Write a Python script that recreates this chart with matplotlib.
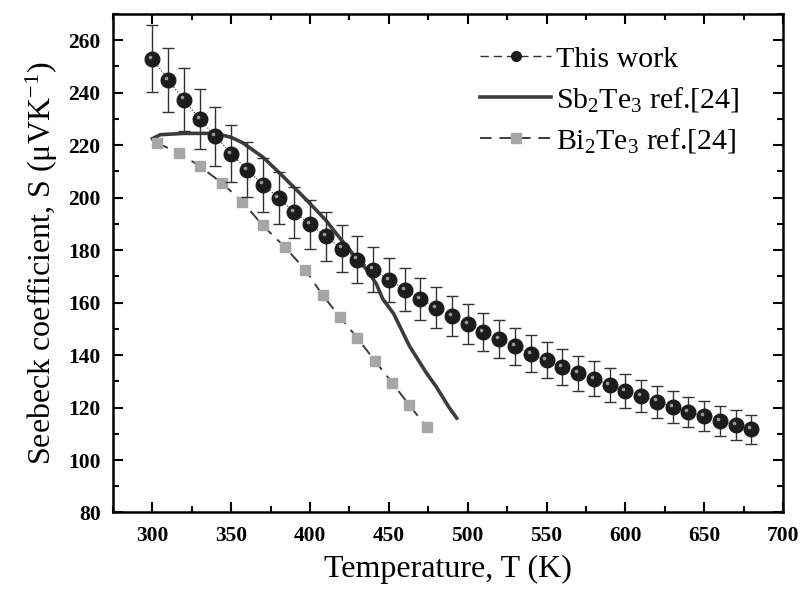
import numpy as np
import matplotlib
matplotlib.use("Agg")
import matplotlib.pyplot as plt
from matplotlib.ticker import MultipleLocator
from matplotlib.transforms import offset_copy

plt.rcParams["font.family"] = ["Liberation Serif", "DejaVu Serif"]
plt.rcParams["mathtext.fontset"] = "custom"
plt.rcParams["mathtext.rm"] = "Liberation Serif"
plt.rcParams["mathtext.it"] = "Liberation Serif:italic"

# This work
t_work = [300, 310, 320, 330, 340, 350, 360, 370, 380, 390, 400, 410, 420,
          430, 440, 450, 460, 470, 480, 490, 500, 510, 520, 530, 540, 550,
          560, 570, 580, 590, 600, 610, 620, 630, 640, 650, 660, 670, 680]
s_work = [253.0, 244.8, 237.4, 229.9, 223.4, 216.8, 210.7, 205.0, 199.9, 194.5,
          189.8, 185.3, 180.6, 176.4, 172.6, 168.7, 164.9, 161.3, 158.1, 154.9,
          151.7, 148.8, 146.0, 143.3, 140.5, 138.0, 135.4, 133.1, 131.0, 128.6,
          126.3, 124.4, 122.3, 120.3, 118.3, 116.7, 114.7, 113.4, 111.7]
err_work = [12.7, 12.2, 11.9, 11.5, 11.2, 10.8, 10.5, 10.3, 10.0, 9.7,
            9.5, 9.3, 9.0, 8.8, 8.6, 8.4, 8.2, 8.1, 7.9, 7.7,
            7.6, 7.4, 7.3, 7.2, 7.0, 6.9, 6.8, 6.7, 6.6, 6.4,
            6.3, 6.2, 6.1, 6.0, 5.9, 5.8, 5.7, 5.7, 5.6]

# Sb2Te3 ref.[24]
t_sb = [300, 305, 320, 340, 350, 357, 370, 381, 398, 410, 419, 427, 436,
        442, 446, 453, 463, 474, 480, 488, 493]
s_sb = [222.5, 224.0, 224.5, 224.5, 223.0, 221.0, 215.5, 209.2, 199.0, 191.4,
        184.5, 178.7, 172.5, 167.2, 161.5, 155.8, 143.5, 133.0, 128.0, 120.2,
        116.0]

# Bi2Te3 ref.[24]
t_bi = [303, 317, 330, 344, 357, 370, 384, 397, 408, 419, 430, 441, 452,
        463, 474]
s_bi = [220.8, 217.0, 212.0, 205.6, 198.5, 189.4, 181.2, 172.5, 162.8, 154.5,
        146.5, 137.9, 129.5, 120.9, 112.5]

fig = plt.figure(figsize=(8.02, 5.89), dpi=100)
ax = fig.add_axes([0.1409, 0.1299, 0.8354, 0.8463])

# reference curves
ax.plot(t_sb, s_sb, color="#3c3c3c", lw=2.6, label="Sb$_2$Te$_3$ ref.[24]", zorder=2)
ax.plot(t_bi, s_bi, color="#3c3c3c", lw=1.4, ls=(0, (6, 4)), marker="s",
        ms=7, mfc="#a6a6a6", mec="#a6a6a6", label="Bi$_2$Te$_3$ ref.[24]", zorder=2)

# this work
ax.errorbar(t_work, s_work, yerr=err_work, fmt="none", ecolor="#333333",
            elinewidth=1.0, capsize=4, capthick=1.0, zorder=3)
ax.plot(t_work, s_work, color="#333333", lw=0.8, ls=":", zorder=3)
ax.plot(t_work, s_work, ls="none", marker="o", ms=10.5, mfc="#1c1c1c",
        mec="#1c1c1c", zorder=4)
hl = offset_copy(ax.transData, fig=fig, x=-1.5, y=1.5, units="points")
ax.plot(t_work, s_work, ls="none", marker="o", ms=2.6, mfc="#9a9a9a",
        mec="none", transform=hl, zorder=5)

# legend handle for this work
h_work, = ax.plot([], [], color="#333333", lw=1.0, ls=(0, (6, 3.5)), marker="o",
                  ms=7, mfc="#1c1c1c", mec="#1c1c1c", label="This work")

handles, labels = ax.get_legend_handles_labels()
order = [2, 0, 1]
ax.legend([handles[i] for i in order], [labels[i] for i in order],
          loc="upper right", bbox_to_anchor=(0.975, 0.99), frameon=False,
          fontsize=21.5, handlelength=2.4, handletextpad=0.15, labelspacing=0.4)

ax.set_xlim(275, 700)
ax.set_ylim(80, 270)
ax.xaxis.set_major_locator(MultipleLocator(50))
ax.xaxis.set_minor_locator(MultipleLocator(25))
ax.yaxis.set_major_locator(MultipleLocator(20))
ax.yaxis.set_minor_locator(MultipleLocator(10))
ax.tick_params(which="both", direction="in", top=True, right=True, width=1.5)
ax.tick_params(which="major", length=7, labelsize=15.5)
ax.tick_params(axis="x", which="major", pad=10)
ax.tick_params(axis="y", which="major", pad=9)
ax.tick_params(which="minor", length=4)
for lab in ax.get_xticklabels() + ax.get_yticklabels():
    lab.set_fontweight("bold")
for sp in ax.spines.values():
    sp.set_linewidth(1.8)

ax.set_xlabel("Temperature, T (K)", fontsize=23, labelpad=6)
ax.set_ylabel("Seebeck coefficient, S (μVK$^{-1}$)", fontsize=23, labelpad=6)

fig.savefig("out.png", dpi=100)
